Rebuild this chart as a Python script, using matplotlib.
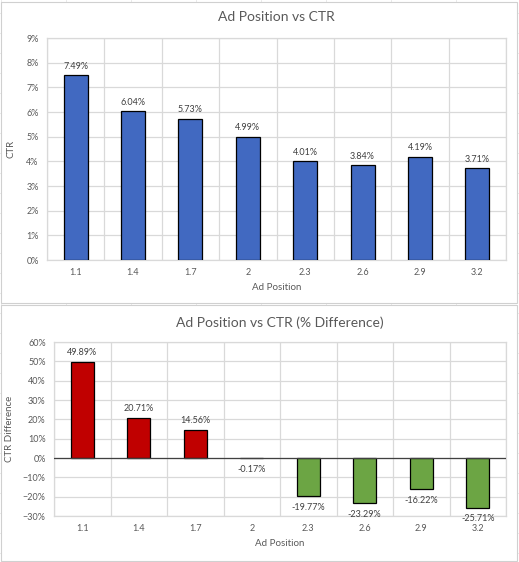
import numpy as np
import matplotlib
matplotlib.use("Agg")
import matplotlib.pyplot as plt
from matplotlib.patches import Rectangle
from matplotlib.ticker import PercentFormatter, MultipleLocator

plt.rcParams['font.family'] = ['Lato', 'DejaVu Sans']

# data
positions = ['1.1', '1.4', '1.7', '2', '2.3', '2.6', '2.9', '3.2']
ctr = [7.49, 6.04, 5.73, 4.99, 4.01, 3.84, 4.19, 3.71]
ctr_diff = [49.89, 20.71, 14.56, -0.17, -19.77, -23.29, -16.22, -25.71]

TEXT = '#595959'
GRID = '#d9d9d9'
BLUE = '#4169c1'
RED = '#c00000'
GREEN = '#6ca544'

W, H = 519, 562
fig = plt.figure(figsize=(W / 100, H / 100), dpi=100)

# faint spreadsheet cells behind the charts
for x in range(1, W, 65):
    fig.add_artist(plt.Line2D([x / W, x / W], [0, 1], color='#e6e6e6', lw=0.6, zorder=0))
for y in range(13, H, 20):
    fig.add_artist(plt.Line2D([0, 1], [1 - y / H, 1 - y / H], color='#e6e6e6', lw=0.6, zorder=0))

# chart boxes
for (x0, y0, x1, y1) in [(1, 2, 517, 303), (1, 305, 517, 561)]:
    fig.add_artist(Rectangle((x0 / W, 1 - y1 / H), (x1 - x0) / W, (y1 - y0) / H,
                             facecolor='white', edgecolor='#d0d0d0', lw=0.8, zorder=0.5))


def style_axes(ax, ymin, ymax, step):
    x = np.arange(len(positions))
    ax.set_zorder(2)
    ax.set_xlim(-0.5, len(positions) - 0.5)
    ax.set_ylim(ymin, ymax)
    ax.yaxis.set_major_locator(MultipleLocator(step))
    ax.yaxis.set_major_formatter(PercentFormatter(decimals=0))
    ax.set_xticks(x)
    ax.set_xticklabels(positions)
    ax.set_xticks(np.arange(len(positions) + 1) - 0.5, minor=True)
    ax.grid(axis='y', which='major', color=GRID, lw=0.9)
    ax.grid(axis='x', which='minor', color=GRID, lw=0.9)
    ax.set_axisbelow(True)
    for s in ax.spines.values():
        s.set_color(GRID)
        s.set_linewidth(0.9)
    ax.tick_params(which='both', length=0, colors=TEXT, labelsize=6.5, pad=6)
    ax.patch.set_alpha(0)


# top chart
ax1 = fig.add_axes([47 / W, 1 - 260 / H, 459 / W, 222 / H])
x = np.arange(len(positions))
ax1.bar(x, ctr, width=0.42, color=BLUE, edgecolor='black', lw=0.9, zorder=3)
style_axes(ax1, 0, 9, 1)
for xi, v in zip(x, ctr):
    ax1.text(xi, v + 0.18, f'{v:.2f}%', ha='center', va='bottom', fontsize=6.5, color='#404040')
ax1.set_title('Ad Position vs CTR', fontsize=10, color=TEXT, pad=12)
ax1.set_xlabel('Ad Position', fontsize=7, color=TEXT, labelpad=4)
ax1.set_ylabel('CTR', fontsize=7, color=TEXT, labelpad=8)

# bottom chart
ax2 = fig.add_axes([54 / W, 1 - 516 / H, 452 / W, 174 / H])
cols = [RED if v > 0 else (GREEN if v < -1 else 'black') for v in ctr_diff]
ax2.bar(x, ctr_diff, width=0.41, color=cols, edgecolor='black', lw=0.9, zorder=3)
style_axes(ax2, -30, 60, 10)
ax2.axhline(0, color='#404040', lw=0.9, zorder=4)
for xi, v in zip(x, ctr_diff):
    if v >= 0:
        ax2.text(xi, v + 2.5, f'{v:.2f}%', ha='center', va='bottom', fontsize=6.5, color='#404040')
    else:
        ax2.text(xi, v - 3.5, f'{v:.2f}%', ha='center', va='top', fontsize=6.5, color='#404040')
ax2.set_title('Ad Position vs CTR (% Difference)', fontsize=10, color=TEXT, pad=11)
ax2.set_xlabel('Ad Position', fontsize=7, color=TEXT, labelpad=4)
ax2.set_ylabel('CTR Difference', fontsize=7, color=TEXT, labelpad=6)

fig.savefig('out.png', dpi=100)
